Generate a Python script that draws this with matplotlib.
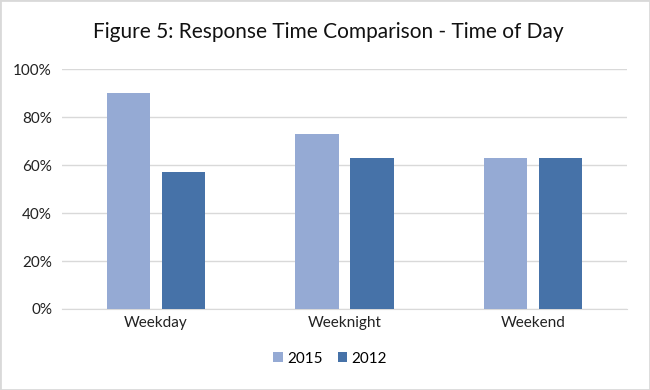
import numpy as np
import matplotlib.pyplot as plt
from matplotlib.patches import Rectangle

categories = ["Weekday", "Weeknight", "Weekend"]
series_names = ["2015", "2012"]
values_2015 = [0.90, 0.73, 0.63]
values_2012 = [0.57, 0.63, 0.63]
colors = ["#95AAD4", "#4672A8"]

plt.rcParams["font.family"] = ["Lato", "DejaVu Sans"]

fig = plt.figure(figsize=(6.5, 3.9), dpi=100)
ax = fig.add_axes([0.095, 0.2077, 0.87, 0.6153])

x = np.arange(len(categories))
w = 0.23
off = 0.145
ax.bar(x - off, values_2015, w, color=colors[0], label=series_names[0], zorder=3)
ax.bar(x + off, values_2012, w, color=colors[1], label=series_names[1], zorder=3)

ax.set_xlim(-0.5, len(categories) - 0.5)
ax.set_ylim(0, 1.0)
ax.set_yticks(np.arange(0, 1.01, 0.2))
ax.set_yticklabels([f"{int(round(v * 100))}%" for v in np.arange(0, 1.01, 0.2)])
ax.set_xticks(x)
ax.set_xticklabels(categories)
ax.tick_params(axis="both", length=0, labelsize=11, colors="#222222")
ax.tick_params(axis="y", pad=7)
ax.tick_params(axis="x", pad=5)
ax.grid(axis="y", color="#d9d9d9", linewidth=1, zorder=0)
for s in ["top", "right", "left"]:
    ax.spines[s].set_visible(False)
ax.spines["bottom"].set_color("#d9d9d9")

fig.text(0.505, 0.918, "Figure 5: Response Time Comparison - Time of Day",
         ha="center", va="center", fontsize=15, color="#111111")

ax.legend(loc="upper center", bbox_to_anchor=(0.475, -0.12), ncol=2, frameon=False,
          fontsize=11, handlelength=0.6, handleheight=0.6, handletextpad=0.3,
          columnspacing=1.0)

fig.patches.append(Rectangle((0, 0), 1, 1, transform=fig.transFigure, fill=False,
                             edgecolor="#d9d9d9", linewidth=2))

fig.savefig("out.png", dpi=100)
